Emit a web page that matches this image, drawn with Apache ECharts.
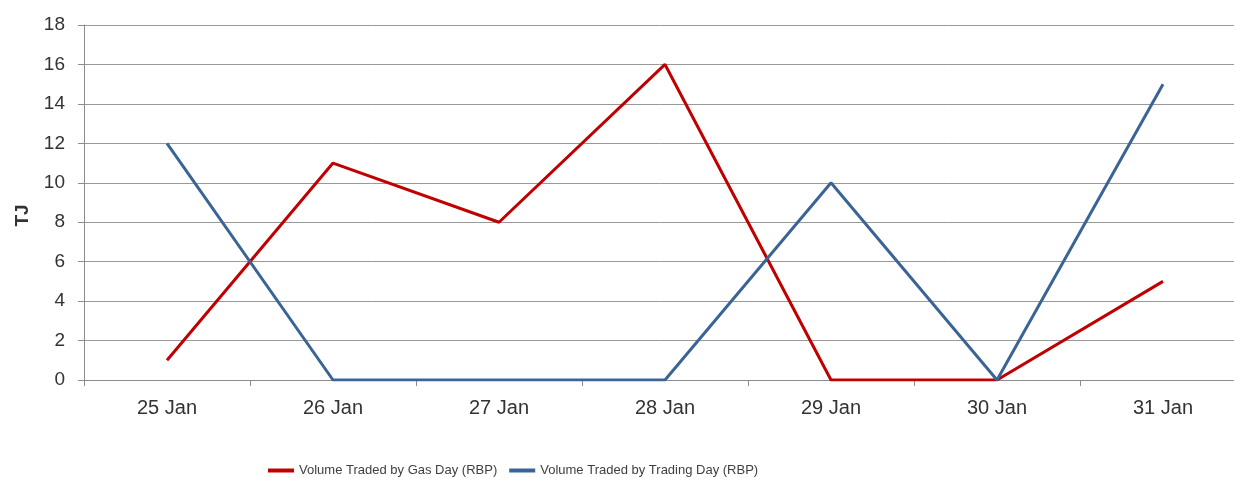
<!DOCTYPE html>
<html>
<head>
    <meta charset="utf-8">
    <title>RBP volume traded</title>
    <script src="https://cdn.jsdelivr.net/npm/echarts@6/dist/echarts.min.js"></script>
    <style>
        html, body { margin: 0; padding: 0; background: #fff; }
        #main { width: 1234px; height: 478px; }
    </style>
</head>
<body>
<div id="main"></div>
<script type="text/javascript">
    // chart data
    var days = ['25 Jan', '26 Jan', '27 Jan', '28 Jan', '29 Jan', '30 Jan', '31 Jan'];
    var gasDay = [1, 11, 8, 16, 0, 0, 5];
    var tradingDay = [12, 0, 0, 0, 10, 0, 15];
    var seriesNames = ['Volume Traded by Gas Day (RBP)', 'Volume Traded by Trading Day (RBP)'];

    var chart = echarts.init(document.getElementById('main'));
    var font = 'Liberation Sans, Arial, sans-serif';

    var option = {
        animation: false,
        color: ['#C00000', '#3A6496'],
        grid: {
            left: 84,
            top: 25,
            right: -12,
            height: 355,
            containLabel: false,
            outerBoundsMode: 'none'
        },
        legend: {
            left: 263,
            top: 459,
            itemWidth: 26,
            itemHeight: 4,
            itemGap: 12,
            icon: 'rect',
            textStyle: { fontFamily: font, fontSize: 13, color: '#404040' },
            data: seriesNames
        },
        xAxis: {
            type: 'category',
            data: days,
            boundaryGap: true,
            axisLine: { lineStyle: { color: '#8c8c8c', width: 1 } },
            axisTick: { show: true, length: 6, alignWithLabel: false, lineStyle: { color: '#8c8c8c' } },
            axisLabel: { fontFamily: font, fontSize: 20, color: '#333', margin: 18 }
        },
        yAxis: {
            type: 'value',
            min: 0,
            max: 18,
            interval: 2,
            name: 'TJ',
            nameLocation: 'middle',
            nameGap: 52,
            nameRotate: 90,
            nameTextStyle: { fontFamily: font, fontSize: 19, fontWeight: 'bold', color: '#333', padding: [0, 26, 0, 0] },
            axisLine: { show: true, lineStyle: { color: '#8c8c8c', width: 1 } },
            axisTick: { show: true, length: 6, lineStyle: { color: '#8c8c8c' } },
            axisLabel: { fontFamily: font, fontSize: 19, color: '#333', margin: 19 },
            splitLine: { lineStyle: { color: '#999', width: 1 } }
        },
        series: [
            {
                name: seriesNames[0],
                type: 'line',
                data: gasDay,
                symbol: 'none',
                lineStyle: { width: 3 }
            },
            {
                name: seriesNames[1],
                type: 'line',
                data: tradingDay,
                symbol: 'none',
                lineStyle: { width: 3 }
            }
        ]
    };

    chart.setOption(option);
</script>
</body>
</html>
